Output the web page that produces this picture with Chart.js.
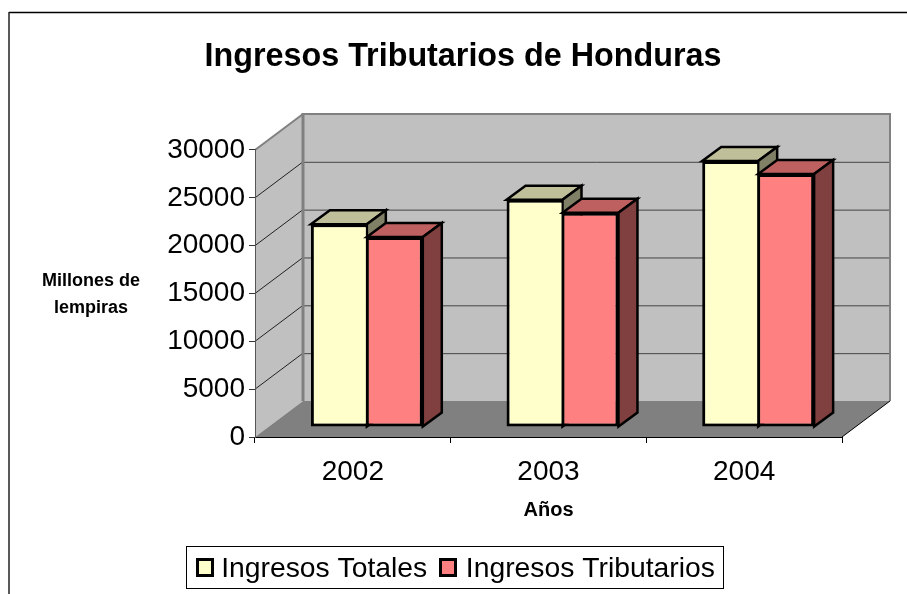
<!DOCTYPE html>
<html>
<head>
<meta charset="utf-8">
<title>Ingresos Tributarios de Honduras</title>
<script src="https://cdn.jsdelivr.net/npm/chart.js@4"></script>
<style>
  html, body { margin: 0; padding: 0; background: #fff; overflow: hidden; }
  canvas { display: block; }
</style>
</head>
<body>
<canvas id="chart" width="907" height="594"></canvas>
<script>
// data
const years = ['2002', '2003', '2004'];
const ingresosTotales = [21200, 23750, 27800];
const ingresosTributarios = [19850, 22400, 26450];
const yTicks = [0, 5000, 10000, 15000, 20000, 25000, 30000];

const FONT = '"Liberation Sans", Arial, sans-serif';
const WALL_DX = 48, WALL_DY = -36;   // depth of the 3d box
const BAR_SHIFT_X = 14, BAR_SHIFT_Y = -10;   // bars stand in the middle of the floor
const BAR_DX = 19, BAR_DY = -14;     // depth of one bar

function poly(ctx, pts, fill, stroke, lw) {
  ctx.beginPath();
  pts.forEach((p, i) => i ? ctx.lineTo(p[0], p[1]) : ctx.moveTo(p[0], p[1]));
  ctx.closePath();
  if (fill) { ctx.fillStyle = fill; ctx.fill(); }
  if (stroke) { ctx.strokeStyle = stroke; ctx.lineWidth = lw; ctx.lineJoin = 'miter'; ctx.stroke(); }
}

function line(ctx, x1, y1, x2, y2, color, lw) {
  ctx.beginPath();
  ctx.moveTo(x1, y1);
  ctx.lineTo(x2, y2);
  ctx.strokeStyle = color;
  ctx.lineWidth = lw;
  ctx.stroke();
}

const box3d = {
  id: 'box3d',
  beforeLayout(chart) {
    const lg = chart.legend, fit = lg.fit;
    lg.fit = function () { fit.call(this); this.height = 45; };
  },
  afterLayout(chart) {
    chart.titleBlock.left += 42;
    chart.titleBlock.right += 42;
    // legend sits left of centre, in its own box
    const lg = chart.legend;
    lg.left = 205 - lg.options.labels.padding;
    lg.right = 820;
    lg.top = 555 - lg.options.labels.padding;
    lg.bottom = 594;
  },
  beforeDraw(chart) {
    const ctx = chart.ctx;
    const { left, right, top, bottom } = chart.chartArea;
    const y = chart.scales.y;
    ctx.save();

    // frame: only top and left edges are on the page
    line(ctx, 9, 12.5, 907, 12.5, '#000', 1.5);
    line(ctx, 9, 12, 9, 594, '#222', 1.5);

    const bl = left + WALL_DX, br = right + WALL_DX;
    const bt = top + WALL_DY, bb = bottom + WALL_DY;

    // back wall, side wall, floor
    poly(ctx, [[bl, bt], [br, bt], [br, bb], [bl, bb]], '#C0C0C0');
    poly(ctx, [[left, top], [bl, bt], [bl, bb], [left, bottom]], '#C0C0C0');

    // grid lines come from the y scale
    y.ticks.forEach(t => {
      const py = y.getPixelForValue(t.value);
      if (t.value > 0 && t.value < 30000) {
        line(ctx, bl, py + WALL_DY + 0.5, br, py + WALL_DY + 0.5, '#444', 1);
        line(ctx, left, py, bl, py + WALL_DY, '#222', 1);
      }
    });

    line(ctx, bl, bt, bl, bb, '#808080', 3);
    line(ctx, bl - 1.5, bt, br + 1, bt, '#808080', 2);
    line(ctx, br, bt, br, bb, '#808080', 2);
    line(ctx, left, top, bl, bt, '#808080', 2);

    poly(ctx, [[left, bottom], [bl, bb], [br, bb], [right, bottom]], '#808080');
    line(ctx, right, bottom, br, bb, '#000', 1);

    // y axis title is horizontal, chart.js can only rotate it
    ctx.fillStyle = '#000';
    ctx.font = 'bold 18px ' + FONT;
    ctx.textAlign = 'center';
    ctx.textBaseline = 'middle';
    ctx.fillText('Millones de', 91, 281);
    ctx.fillText('lempiras', 91, 308);
    ctx.restore();
  },
  // chart.js puts the first dataset on top, here the second one has to be,
  // so the native pass is skipped and the bars are drawn in dataset order
  beforeDatasetDraw() {
    return false;
  },
  afterDatasetsDraw(chart) {
    const ctx = chart.ctx;
    chart.data.datasets.forEach((ds, i) => {
      const meta = chart.getDatasetMeta(i);
      ctx.save();
      ctx.translate(BAR_SHIFT_X, BAR_SHIFT_Y);
      meta.data.forEach(el => {
        const l = el.x - el.width / 2, r = el.x + el.width / 2;
        const t = el.y, b = el.base;
        poly(ctx, [[l, t], [l + BAR_DX, t + BAR_DY], [r + BAR_DX, t + BAR_DY], [r, t]], ds.topColor, '#000', 2.5);
        poly(ctx, [[r, t], [r + BAR_DX, t + BAR_DY], [r + BAR_DX, b + BAR_DY], [r, b]], ds.sideColor, '#000', 2.5);
      });
      meta.controller.draw();
      ctx.restore();
    });
  },
  afterDraw(chart) {
    const ctx = chart.ctx;
    ctx.save();
    ctx.strokeStyle = '#000';
    ctx.lineWidth = 1;
    ctx.strokeRect(186.5, 546.5, 537, 42);
    // legend keys, native ones leave too wide a gap before the text
    ctx.lineWidth = 3;
    [197.5, 440.5].forEach((x, i) => {
      ctx.fillStyle = chart.data.datasets[i].backgroundColor;
      ctx.fillRect(x, 559.5, 15, 16);
      ctx.strokeRect(x, 559.5, 15, 16);
    });
    ctx.restore();
  }
};

new Chart(document.getElementById('chart'), {
  type: 'bar',
  data: {
    labels: years,
    datasets: [
      { label: 'Ingresos Totales', data: ingresosTotales,
        backgroundColor: '#FFFFCC', borderColor: '#000', borderSkipped: false,
        borderWidth: { top: 3, left: 3, bottom: 3, right: 1 },
        topColor: '#BFBF99', sideColor: '#808066' },
      { label: 'Ingresos Tributarios', data: ingresosTributarios,
        backgroundColor: '#FF8080', borderColor: '#000', borderSkipped: false,
        borderWidth: { top: 3, left: 2, bottom: 3, right: 3 },
        topColor: '#BF6060', sideColor: '#804040' }
    ]
  },
  options: {
    responsive: false,
    animation: false,
    layout: { padding: { right: 65 } },
    datasets: { bar: { barPercentage: 1, categoryPercentage: 0.572 } },
    plugins: {
      title: {
        display: true,
        text: 'Ingresos Tributarios de Honduras',
        color: '#000',
        font: { family: FONT, size: 32.3, weight: 'bold' },
        padding: { top: 38, bottom: 73.2 }
      },
      legend: {
        position: 'bottom',
        align: 'start',
        labels: {
          color: '#000',
          boxWidth: 2,
          boxHeight: 2,
          padding: 22.5,
          font: { family: FONT, size: 28.3 },
          generateLabels: chart => chart.data.datasets.map((d, i) => ({
            text: d.label, datasetIndex: i, fillStyle: 'transparent', strokeStyle: 'transparent', lineWidth: 0
          }))
        }
      },
      tooltip: { enabled: false }
    },
    scales: {
      x: {
        afterFit: s => { s.height = 112; },
        grid: { drawOnChartArea: false, tickLength: 6, color: '#000' },
        border: { color: '#000' },
        ticks: { color: '#000', padding: 12, font: { family: FONT, size: 28 }, maxRotation: 0 },
        title: {
          display: true,
          text: 'Años',
          color: '#000',
          font: { family: FONT, size: 20, weight: 'bold' },
          padding: { top: 4, bottom: 27 }
        }
      },
      y: {
        min: 0,
        max: 30000,
        afterFit: s => { s.width = 255; },
        afterBuildTicks: s => { s.ticks = yTicks.map(v => ({ value: v })); },
        grid: { drawOnChartArea: false, tickLength: 6, color: '#333' },
        border: { color: '#555' },
        ticks: { color: '#000', padding: 4, font: { family: FONT, size: 28 }, callback: v => String(v) }
      }
    }
  },
  plugins: [box3d]
});
</script>
</body>
</html>
